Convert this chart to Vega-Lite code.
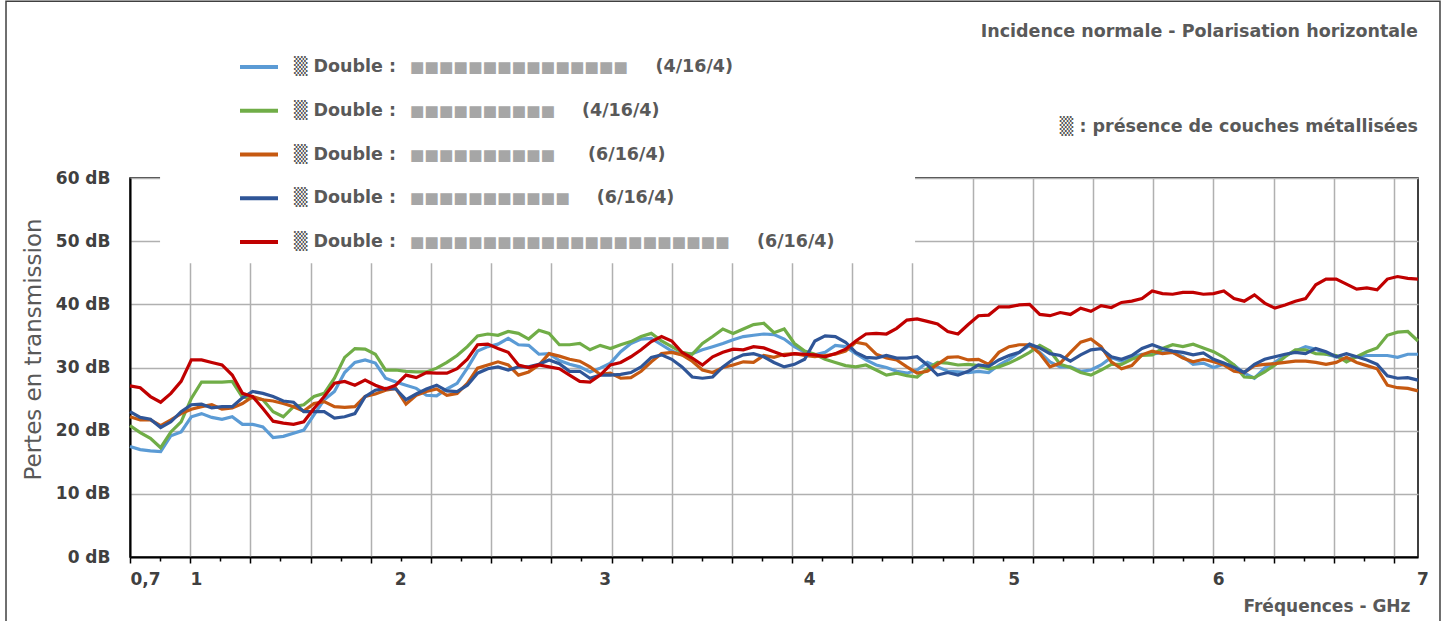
{
 "$schema": "https://vega.github.io/schema/vega-lite/v6.json",
 "width": 1288,
 "height": 379,
 "autosize": {"type": "none"},
 "padding": {"left": 130, "top": 178, "right": 32, "bottom": 64},
 "background": "white",
 "config": {"font": "DejaVu Sans", "view": {"stroke": "#000000", "strokeWidth": 1.5}},
 "title": {
  "text": "Incidence normale - Polarisation horizontale",
  "subtitle": "▒ : présence de couches métallisées\u00a0\u00a0",
  "anchor": "end", "frame": "group", "orient": "top", "offset": -135,
  "font": "DejaVu Sans", "fontSize": 17.5, "fontWeight": "bold", "color": "#595959",
  "subtitleFont": "DejaVu Sans", "subtitleFontSize": 17.5, "subtitleFontWeight": "bold", "subtitleColor": "#595959",
  "subtitlePadding": 77
 },
 "datasets": {"pts": [
{"serie":"A","ghz":0.7,"db":17.5},{"serie":"A","ghz":0.75,"db":17.0},{"serie":"A","ghz":0.8,"db":16.8},{"serie":"A","ghz":0.85,"db":16.7},{"serie":"A","ghz":0.9,"db":19.2},{"serie":"A","ghz":0.95,"db":19.8},{"serie":"A","ghz":1.0,"db":22.2},{"serie":"A","ghz":1.05,"db":22.7},{"serie":"A","ghz":1.1,"db":22.1},{"serie":"A","ghz":1.15,"db":21.8},
{"serie":"A","ghz":1.2,"db":22.2},{"serie":"A","ghz":1.25,"db":21.0},{"serie":"A","ghz":1.3,"db":21.0},{"serie":"A","ghz":1.35,"db":20.6},{"serie":"A","ghz":1.4,"db":18.9},{"serie":"A","ghz":1.45,"db":19.1},{"serie":"A","ghz":1.5,"db":19.6},{"serie":"A","ghz":1.55,"db":20.1},{"serie":"A","ghz":1.6,"db":22.5},{"serie":"A","ghz":1.65,"db":24.9},
{"serie":"A","ghz":1.7,"db":26.2},{"serie":"A","ghz":1.75,"db":29.2},{"serie":"A","ghz":1.8,"db":30.8},{"serie":"A","ghz":1.85,"db":31.2},{"serie":"A","ghz":1.9,"db":30.7},{"serie":"A","ghz":1.95,"db":28.3},{"serie":"A","ghz":2.0,"db":27.7},{"serie":"A","ghz":2.05,"db":27.2},{"serie":"A","ghz":2.1,"db":26.7},{"serie":"A","ghz":2.15,"db":25.6},
{"serie":"A","ghz":2.2,"db":25.5},{"serie":"A","ghz":2.25,"db":26.6},{"serie":"A","ghz":2.3,"db":27.5},{"serie":"A","ghz":2.35,"db":29.9},{"serie":"A","ghz":2.4,"db":32.6},{"serie":"A","ghz":2.45,"db":33.3},{"serie":"A","ghz":2.5,"db":33.7},{"serie":"A","ghz":2.55,"db":34.6},{"serie":"A","ghz":2.6,"db":33.6},{"serie":"A","ghz":2.65,"db":33.5},
{"serie":"A","ghz":2.7,"db":32.1},{"serie":"A","ghz":2.75,"db":32.2},{"serie":"A","ghz":2.8,"db":31.1},{"serie":"A","ghz":2.85,"db":30.5},{"serie":"A","ghz":2.9,"db":30.1},{"serie":"A","ghz":2.95,"db":29.3},{"serie":"A","ghz":3.0,"db":29.9},{"serie":"A","ghz":3.05,"db":30.7},{"serie":"A","ghz":3.1,"db":32.5},{"serie":"A","ghz":3.15,"db":33.8},
{"serie":"A","ghz":3.2,"db":34.5},{"serie":"A","ghz":3.25,"db":34.6},{"serie":"A","ghz":3.3,"db":33.6},{"serie":"A","ghz":3.35,"db":32.6},{"serie":"A","ghz":3.4,"db":32.0},{"serie":"A","ghz":3.45,"db":32.2},{"serie":"A","ghz":3.5,"db":32.8},{"serie":"A","ghz":3.55,"db":33.3},{"serie":"A","ghz":3.6,"db":33.8},{"serie":"A","ghz":3.65,"db":34.4},
{"serie":"A","ghz":3.7,"db":34.9},{"serie":"A","ghz":3.75,"db":35.1},{"serie":"A","ghz":3.8,"db":35.3},{"serie":"A","ghz":3.85,"db":35.2},{"serie":"A","ghz":3.9,"db":34.5},{"serie":"A","ghz":3.95,"db":33.3},{"serie":"A","ghz":4.0,"db":32.4},{"serie":"A","ghz":4.05,"db":32.0},{"serie":"A","ghz":4.1,"db":32.4},{"serie":"A","ghz":4.15,"db":33.5},
{"serie":"A","ghz":4.2,"db":33.3},{"serie":"A","ghz":4.25,"db":32.2},{"serie":"A","ghz":4.3,"db":31.2},{"serie":"A","ghz":4.35,"db":30.4},{"serie":"A","ghz":4.4,"db":30.0},{"serie":"A","ghz":4.45,"db":29.4},{"serie":"A","ghz":4.5,"db":29.1},{"serie":"A","ghz":4.55,"db":29.6},{"serie":"A","ghz":4.6,"db":30.8},{"serie":"A","ghz":4.65,"db":30.1},
{"serie":"A","ghz":4.7,"db":29.4},{"serie":"A","ghz":4.75,"db":29.3},{"serie":"A","ghz":4.8,"db":29.2},{"serie":"A","ghz":4.85,"db":29.4},{"serie":"A","ghz":4.9,"db":29.2},{"serie":"A","ghz":4.95,"db":30.4},{"serie":"A","ghz":5.0,"db":31.3},{"serie":"A","ghz":5.05,"db":32.4},{"serie":"A","ghz":5.1,"db":33.5},{"serie":"A","ghz":5.15,"db":32.4},
{"serie":"A","ghz":5.2,"db":30.9},{"serie":"A","ghz":5.25,"db":30.1},{"serie":"A","ghz":5.3,"db":30.1},{"serie":"A","ghz":5.35,"db":29.4},{"serie":"A","ghz":5.4,"db":29.6},{"serie":"A","ghz":5.45,"db":30.4},{"serie":"A","ghz":5.5,"db":31.6},{"serie":"A","ghz":5.55,"db":31.0},{"serie":"A","ghz":5.6,"db":31.7},{"serie":"A","ghz":5.65,"db":32.1},
{"serie":"A","ghz":5.7,"db":32.1},{"serie":"A","ghz":5.75,"db":32.4},{"serie":"A","ghz":5.8,"db":32.4},{"serie":"A","ghz":5.85,"db":31.7},{"serie":"A","ghz":5.9,"db":30.5},{"serie":"A","ghz":5.95,"db":30.7},{"serie":"A","ghz":6.0,"db":30.0},{"serie":"A","ghz":6.05,"db":30.5},{"serie":"A","ghz":6.1,"db":30.4},{"serie":"A","ghz":6.15,"db":29.1},
{"serie":"A","ghz":6.2,"db":28.3},{"serie":"A","ghz":6.25,"db":29.9},{"serie":"A","ghz":6.3,"db":30.8},{"serie":"A","ghz":6.35,"db":31.9},{"serie":"A","ghz":6.4,"db":32.6},{"serie":"A","ghz":6.45,"db":33.3},{"serie":"A","ghz":6.5,"db":32.9},{"serie":"A","ghz":6.55,"db":32.1},{"serie":"A","ghz":6.6,"db":31.7},{"serie":"A","ghz":6.65,"db":31.3},
{"serie":"A","ghz":6.7,"db":31.7},{"serie":"A","ghz":6.75,"db":31.9},{"serie":"A","ghz":6.8,"db":31.9},{"serie":"A","ghz":6.85,"db":31.9},{"serie":"A","ghz":6.9,"db":31.6},{"serie":"A","ghz":6.95,"db":32.1},{"serie":"A","ghz":7.0,"db":32.1},
{"serie":"B","ghz":0.7,"db":20.8},{"serie":"B","ghz":0.75,"db":19.7},{"serie":"B","ghz":0.8,"db":18.8},{"serie":"B","ghz":0.85,"db":17.3},{"serie":"B","ghz":0.9,"db":19.8},{"serie":"B","ghz":0.95,"db":21.4},{"serie":"B","ghz":1.0,"db":25.1},{"serie":"B","ghz":1.05,"db":27.7},{"serie":"B","ghz":1.1,"db":27.7},{"serie":"B","ghz":1.15,"db":27.7},
{"serie":"B","ghz":1.2,"db":27.8},{"serie":"B","ghz":1.25,"db":25.3},{"serie":"B","ghz":1.3,"db":25.2},{"serie":"B","ghz":1.35,"db":24.9},{"serie":"B","ghz":1.4,"db":23.0},{"serie":"B","ghz":1.45,"db":22.2},{"serie":"B","ghz":1.5,"db":23.8},{"serie":"B","ghz":1.55,"db":24.1},{"serie":"B","ghz":1.6,"db":25.4},{"serie":"B","ghz":1.65,"db":25.9},
{"serie":"B","ghz":1.7,"db":28.3},{"serie":"B","ghz":1.75,"db":31.6},{"serie":"B","ghz":1.8,"db":33.0},{"serie":"B","ghz":1.85,"db":32.9},{"serie":"B","ghz":1.9,"db":32.1},{"serie":"B","ghz":1.95,"db":29.6},{"serie":"B","ghz":2.0,"db":29.6},{"serie":"B","ghz":2.05,"db":29.4},{"serie":"B","ghz":2.1,"db":29.3},{"serie":"B","ghz":2.15,"db":29.3},
{"serie":"B","ghz":2.2,"db":29.9},{"serie":"B","ghz":2.25,"db":30.8},{"serie":"B","ghz":2.3,"db":31.9},{"serie":"B","ghz":2.35,"db":33.3},{"serie":"B","ghz":2.4,"db":35.0},{"serie":"B","ghz":2.45,"db":35.3},{"serie":"B","ghz":2.5,"db":35.1},{"serie":"B","ghz":2.55,"db":35.7},{"serie":"B","ghz":2.6,"db":35.4},{"serie":"B","ghz":2.65,"db":34.5},
{"serie":"B","ghz":2.7,"db":35.9},{"serie":"B","ghz":2.75,"db":35.4},{"serie":"B","ghz":2.8,"db":33.6},{"serie":"B","ghz":2.85,"db":33.6},{"serie":"B","ghz":2.9,"db":33.8},{"serie":"B","ghz":2.95,"db":32.8},{"serie":"B","ghz":3.0,"db":33.5},{"serie":"B","ghz":3.05,"db":33.0},{"serie":"B","ghz":3.1,"db":33.6},{"serie":"B","ghz":3.15,"db":34.1},
{"serie":"B","ghz":3.2,"db":34.9},{"serie":"B","ghz":3.25,"db":35.4},{"serie":"B","ghz":3.3,"db":34.2},{"serie":"B","ghz":3.35,"db":33.3},{"serie":"B","ghz":3.4,"db":32.4},{"serie":"B","ghz":3.45,"db":32.1},{"serie":"B","ghz":3.5,"db":33.8},{"serie":"B","ghz":3.55,"db":34.9},{"serie":"B","ghz":3.6,"db":36.1},{"serie":"B","ghz":3.65,"db":35.4},
{"serie":"B","ghz":3.7,"db":36.1},{"serie":"B","ghz":3.75,"db":36.8},{"serie":"B","ghz":3.8,"db":37.0},{"serie":"B","ghz":3.85,"db":35.5},{"serie":"B","ghz":3.9,"db":36.1},{"serie":"B","ghz":3.95,"db":33.8},{"serie":"B","ghz":4.0,"db":32.6},{"serie":"B","ghz":4.05,"db":32.1},{"serie":"B","ghz":4.1,"db":31.3},{"serie":"B","ghz":4.15,"db":30.8},
{"serie":"B","ghz":4.2,"db":30.3},{"serie":"B","ghz":4.25,"db":30.1},{"serie":"B","ghz":4.3,"db":30.4},{"serie":"B","ghz":4.35,"db":29.6},{"serie":"B","ghz":4.4,"db":28.8},{"serie":"B","ghz":4.45,"db":29.1},{"serie":"B","ghz":4.5,"db":28.7},{"serie":"B","ghz":4.55,"db":28.5},{"serie":"B","ghz":4.6,"db":29.8},{"serie":"B","ghz":4.65,"db":30.8},
{"serie":"B","ghz":4.7,"db":30.7},{"serie":"B","ghz":4.75,"db":30.4},{"serie":"B","ghz":4.8,"db":30.5},{"serie":"B","ghz":4.85,"db":30.3},{"serie":"B","ghz":4.9,"db":29.8},{"serie":"B","ghz":4.95,"db":30.1},{"serie":"B","ghz":5.0,"db":30.7},{"serie":"B","ghz":5.05,"db":31.5},{"serie":"B","ghz":5.1,"db":32.4},{"serie":"B","ghz":5.15,"db":33.5},
{"serie":"B","ghz":5.2,"db":32.6},{"serie":"B","ghz":5.25,"db":30.5},{"serie":"B","ghz":5.3,"db":30.0},{"serie":"B","ghz":5.35,"db":29.2},{"serie":"B","ghz":5.4,"db":28.8},{"serie":"B","ghz":5.45,"db":29.6},{"serie":"B","ghz":5.5,"db":30.5},{"serie":"B","ghz":5.55,"db":30.5},{"serie":"B","ghz":5.6,"db":31.3},{"serie":"B","ghz":5.65,"db":31.9},
{"serie":"B","ghz":5.7,"db":32.0},{"serie":"B","ghz":5.75,"db":33.0},{"serie":"B","ghz":5.8,"db":33.6},{"serie":"B","ghz":5.85,"db":33.3},{"serie":"B","ghz":5.9,"db":33.7},{"serie":"B","ghz":5.95,"db":33.1},{"serie":"B","ghz":6.0,"db":32.5},{"serie":"B","ghz":6.05,"db":31.6},{"serie":"B","ghz":6.1,"db":30.4},{"serie":"B","ghz":6.15,"db":28.5},
{"serie":"B","ghz":6.2,"db":28.4},{"serie":"B","ghz":6.25,"db":29.3},{"serie":"B","ghz":6.3,"db":30.4},{"serie":"B","ghz":6.35,"db":31.7},{"serie":"B","ghz":6.4,"db":32.8},{"serie":"B","ghz":6.45,"db":32.8},{"serie":"B","ghz":6.5,"db":32.2},{"serie":"B","ghz":6.55,"db":32.1},{"serie":"B","ghz":6.6,"db":31.9},{"serie":"B","ghz":6.65,"db":30.9},
{"serie":"B","ghz":6.7,"db":31.7},{"serie":"B","ghz":6.75,"db":32.5},{"serie":"B","ghz":6.8,"db":33.1},{"serie":"B","ghz":6.85,"db":35.1},{"serie":"B","ghz":6.9,"db":35.6},{"serie":"B","ghz":6.95,"db":35.7},{"serie":"B","ghz":7.0,"db":34.2},
{"serie":"C","ghz":0.7,"db":22.2},{"serie":"C","ghz":0.75,"db":21.7},{"serie":"C","ghz":0.8,"db":21.7},{"serie":"C","ghz":0.85,"db":20.8},{"serie":"C","ghz":0.9,"db":21.7},{"serie":"C","ghz":0.95,"db":22.7},{"serie":"C","ghz":1.0,"db":23.4},{"serie":"C","ghz":1.05,"db":23.8},{"serie":"C","ghz":1.1,"db":24.1},{"serie":"C","ghz":1.15,"db":23.4},
{"serie":"C","ghz":1.2,"db":23.6},{"serie":"C","ghz":1.25,"db":24.3},{"serie":"C","ghz":1.3,"db":25.4},{"serie":"C","ghz":1.35,"db":24.9},{"serie":"C","ghz":1.4,"db":24.7},{"serie":"C","ghz":1.45,"db":24.3},{"serie":"C","ghz":1.5,"db":23.8},{"serie":"C","ghz":1.55,"db":23.1},{"serie":"C","ghz":1.6,"db":24.3},{"serie":"C","ghz":1.65,"db":24.6},
{"serie":"C","ghz":1.7,"db":23.8},{"serie":"C","ghz":1.75,"db":23.7},{"serie":"C","ghz":1.8,"db":23.8},{"serie":"C","ghz":1.85,"db":25.4},{"serie":"C","ghz":1.9,"db":25.8},{"serie":"C","ghz":1.95,"db":26.4},{"serie":"C","ghz":2.0,"db":26.7},{"serie":"C","ghz":2.05,"db":24.2},{"serie":"C","ghz":2.1,"db":25.6},{"serie":"C","ghz":2.15,"db":26.2},
{"serie":"C","ghz":2.2,"db":26.6},{"serie":"C","ghz":2.25,"db":25.6},{"serie":"C","ghz":2.3,"db":25.9},{"serie":"C","ghz":2.35,"db":27.5},{"serie":"C","ghz":2.4,"db":29.9},{"serie":"C","ghz":2.45,"db":30.4},{"serie":"C","ghz":2.5,"db":30.9},{"serie":"C","ghz":2.55,"db":30.4},{"serie":"C","ghz":2.6,"db":28.8},{"serie":"C","ghz":2.65,"db":29.3},
{"serie":"C","ghz":2.7,"db":30.4},{"serie":"C","ghz":2.75,"db":32.2},{"serie":"C","ghz":2.8,"db":31.8},{"serie":"C","ghz":2.85,"db":31.3},{"serie":"C","ghz":2.9,"db":31.0},{"serie":"C","ghz":2.95,"db":30.1},{"serie":"C","ghz":3.0,"db":28.9},{"serie":"C","ghz":3.05,"db":29.1},{"serie":"C","ghz":3.1,"db":28.3},{"serie":"C","ghz":3.15,"db":28.4},
{"serie":"C","ghz":3.2,"db":29.4},{"serie":"C","ghz":3.25,"db":30.9},{"serie":"C","ghz":3.3,"db":32.2},{"serie":"C","ghz":3.35,"db":32.4},{"serie":"C","ghz":3.4,"db":32.0},{"serie":"C","ghz":3.45,"db":31.0},{"serie":"C","ghz":3.5,"db":29.6},{"serie":"C","ghz":3.55,"db":29.2},{"serie":"C","ghz":3.6,"db":30.0},{"serie":"C","ghz":3.65,"db":30.4},
{"serie":"C","ghz":3.7,"db":30.9},{"serie":"C","ghz":3.75,"db":30.8},{"serie":"C","ghz":3.8,"db":31.9},{"serie":"C","ghz":3.85,"db":31.6},{"serie":"C","ghz":3.9,"db":32.1},{"serie":"C","ghz":3.95,"db":32.2},{"serie":"C","ghz":4.0,"db":31.9},{"serie":"C","ghz":4.05,"db":31.7},{"serie":"C","ghz":4.1,"db":31.9},{"serie":"C","ghz":4.15,"db":32.1},
{"serie":"C","ghz":4.2,"db":32.6},{"serie":"C","ghz":4.25,"db":34.0},{"serie":"C","ghz":4.3,"db":33.7},{"serie":"C","ghz":4.35,"db":32.1},{"serie":"C","ghz":4.4,"db":31.5},{"serie":"C","ghz":4.45,"db":31.2},{"serie":"C","ghz":4.5,"db":30.1},{"serie":"C","ghz":4.55,"db":29.1},{"serie":"C","ghz":4.6,"db":29.4},{"serie":"C","ghz":4.65,"db":30.5},
{"serie":"C","ghz":4.7,"db":31.6},{"serie":"C","ghz":4.75,"db":31.7},{"serie":"C","ghz":4.8,"db":31.2},{"serie":"C","ghz":4.85,"db":31.3},{"serie":"C","ghz":4.9,"db":30.5},{"serie":"C","ghz":4.95,"db":32.4},{"serie":"C","ghz":5.0,"db":33.3},{"serie":"C","ghz":5.05,"db":33.6},{"serie":"C","ghz":5.1,"db":33.6},{"serie":"C","ghz":5.15,"db":32.2},
{"serie":"C","ghz":5.2,"db":30.1},{"serie":"C","ghz":5.25,"db":30.7},{"serie":"C","ghz":5.3,"db":32.4},{"serie":"C","ghz":5.35,"db":34.0},{"serie":"C","ghz":5.4,"db":34.5},{"serie":"C","ghz":5.45,"db":33.3},{"serie":"C","ghz":5.5,"db":30.9},{"serie":"C","ghz":5.55,"db":29.8},{"serie":"C","ghz":5.6,"db":30.3},{"serie":"C","ghz":5.65,"db":32.0},
{"serie":"C","ghz":5.7,"db":32.6},{"serie":"C","ghz":5.75,"db":32.2},{"serie":"C","ghz":5.8,"db":32.4},{"serie":"C","ghz":5.85,"db":31.5},{"serie":"C","ghz":5.9,"db":30.9},{"serie":"C","ghz":5.95,"db":31.3},{"serie":"C","ghz":6.0,"db":30.9},{"serie":"C","ghz":6.05,"db":30.4},{"serie":"C","ghz":6.1,"db":29.4},{"serie":"C","ghz":6.15,"db":29.2},
{"serie":"C","ghz":6.2,"db":30.3},{"serie":"C","ghz":6.25,"db":30.5},{"serie":"C","ghz":6.3,"db":30.6},{"serie":"C","ghz":6.35,"db":30.8},{"serie":"C","ghz":6.4,"db":31.0},{"serie":"C","ghz":6.45,"db":31.0},{"serie":"C","ghz":6.5,"db":30.8},{"serie":"C","ghz":6.55,"db":30.5},{"serie":"C","ghz":6.6,"db":30.8},{"serie":"C","ghz":6.65,"db":31.6},
{"serie":"C","ghz":6.7,"db":30.8},{"serie":"C","ghz":6.75,"db":30.3},{"serie":"C","ghz":6.8,"db":29.8},{"serie":"C","ghz":6.85,"db":27.2},{"serie":"C","ghz":6.9,"db":26.8},{"serie":"C","ghz":6.95,"db":26.7},{"serie":"C","ghz":7.0,"db":26.3},
{"serie":"D","ghz":0.7,"db":23.0},{"serie":"D","ghz":0.75,"db":22.1},{"serie":"D","ghz":0.8,"db":21.8},{"serie":"D","ghz":0.85,"db":20.5},{"serie":"D","ghz":0.9,"db":21.4},{"serie":"D","ghz":0.95,"db":23.0},{"serie":"D","ghz":1.0,"db":24.1},{"serie":"D","ghz":1.05,"db":24.2},{"serie":"D","ghz":1.1,"db":23.6},{"serie":"D","ghz":1.15,"db":23.8},
{"serie":"D","ghz":1.2,"db":23.8},{"serie":"D","ghz":1.25,"db":25.2},{"serie":"D","ghz":1.3,"db":26.2},{"serie":"D","ghz":1.35,"db":25.9},{"serie":"D","ghz":1.4,"db":25.4},{"serie":"D","ghz":1.45,"db":24.7},{"serie":"D","ghz":1.5,"db":24.5},{"serie":"D","ghz":1.55,"db":23.0},{"serie":"D","ghz":1.6,"db":23.0},{"serie":"D","ghz":1.65,"db":23.0},
{"serie":"D","ghz":1.7,"db":22.0},{"serie":"D","ghz":1.75,"db":22.2},{"serie":"D","ghz":1.8,"db":22.7},{"serie":"D","ghz":1.85,"db":25.4},{"serie":"D","ghz":1.9,"db":26.4},{"serie":"D","ghz":1.95,"db":26.7},{"serie":"D","ghz":2.0,"db":26.6},{"serie":"D","ghz":2.05,"db":24.9},{"serie":"D","ghz":2.1,"db":25.8},{"serie":"D","ghz":2.15,"db":26.6},
{"serie":"D","ghz":2.2,"db":27.2},{"serie":"D","ghz":2.25,"db":26.3},{"serie":"D","ghz":2.3,"db":26.2},{"serie":"D","ghz":2.35,"db":27.2},{"serie":"D","ghz":2.4,"db":29.1},{"serie":"D","ghz":2.45,"db":29.8},{"serie":"D","ghz":2.5,"db":30.1},{"serie":"D","ghz":2.55,"db":29.6},{"serie":"D","ghz":2.6,"db":30.1},{"serie":"D","ghz":2.65,"db":30.1},
{"serie":"D","ghz":2.7,"db":30.5},{"serie":"D","ghz":2.75,"db":31.2},{"serie":"D","ghz":2.8,"db":30.6},{"serie":"D","ghz":2.85,"db":29.4},{"serie":"D","ghz":2.9,"db":29.4},{"serie":"D","ghz":2.95,"db":28.3},{"serie":"D","ghz":3.0,"db":28.8},{"serie":"D","ghz":3.05,"db":28.8},{"serie":"D","ghz":3.1,"db":28.9},{"serie":"D","ghz":3.15,"db":29.2},
{"serie":"D","ghz":3.2,"db":30.1},{"serie":"D","ghz":3.25,"db":31.6},{"serie":"D","ghz":3.3,"db":32.0},{"serie":"D","ghz":3.35,"db":31.3},{"serie":"D","ghz":3.4,"db":30.1},{"serie":"D","ghz":3.45,"db":28.5},{"serie":"D","ghz":3.5,"db":28.3},{"serie":"D","ghz":3.55,"db":28.5},{"serie":"D","ghz":3.6,"db":30.1},{"serie":"D","ghz":3.65,"db":31.3},
{"serie":"D","ghz":3.7,"db":32.0},{"serie":"D","ghz":3.75,"db":32.2},{"serie":"D","ghz":3.8,"db":31.7},{"serie":"D","ghz":3.85,"db":30.8},{"serie":"D","ghz":3.9,"db":30.1},{"serie":"D","ghz":3.95,"db":30.5},{"serie":"D","ghz":4.0,"db":31.3},{"serie":"D","ghz":4.05,"db":34.2},{"serie":"D","ghz":4.1,"db":35.0},{"serie":"D","ghz":4.15,"db":34.9},
{"serie":"D","ghz":4.2,"db":34.0},{"serie":"D","ghz":4.25,"db":32.4},{"serie":"D","ghz":4.3,"db":31.6},{"serie":"D","ghz":4.35,"db":31.5},{"serie":"D","ghz":4.4,"db":31.9},{"serie":"D","ghz":4.45,"db":31.5},{"serie":"D","ghz":4.5,"db":31.5},{"serie":"D","ghz":4.55,"db":31.7},{"serie":"D","ghz":4.6,"db":30.4},{"serie":"D","ghz":4.65,"db":28.8},
{"serie":"D","ghz":4.7,"db":29.2},{"serie":"D","ghz":4.75,"db":28.8},{"serie":"D","ghz":4.8,"db":29.4},{"serie":"D","ghz":4.85,"db":30.4},{"serie":"D","ghz":4.9,"db":30.2},{"serie":"D","ghz":4.95,"db":31.2},{"serie":"D","ghz":5.0,"db":31.9},{"serie":"D","ghz":5.05,"db":32.4},{"serie":"D","ghz":5.1,"db":33.7},{"serie":"D","ghz":5.15,"db":33.1},
{"serie":"D","ghz":5.2,"db":32.2},{"serie":"D","ghz":5.25,"db":31.9},{"serie":"D","ghz":5.3,"db":31.0},{"serie":"D","ghz":5.35,"db":32.0},{"serie":"D","ghz":5.4,"db":32.8},{"serie":"D","ghz":5.45,"db":33.0},{"serie":"D","ghz":5.5,"db":31.7},{"serie":"D","ghz":5.55,"db":31.3},{"serie":"D","ghz":5.6,"db":31.9},{"serie":"D","ghz":5.65,"db":33.0},
{"serie":"D","ghz":5.7,"db":33.6},{"serie":"D","ghz":5.75,"db":33.0},{"serie":"D","ghz":5.8,"db":32.6},{"serie":"D","ghz":5.85,"db":32.4},{"serie":"D","ghz":5.9,"db":32.0},{"serie":"D","ghz":5.95,"db":32.3},{"serie":"D","ghz":6.0,"db":31.3},{"serie":"D","ghz":6.05,"db":30.7},{"serie":"D","ghz":6.1,"db":30.0},{"serie":"D","ghz":6.15,"db":29.2},
{"serie":"D","ghz":6.2,"db":30.5},{"serie":"D","ghz":6.25,"db":31.3},{"serie":"D","ghz":6.3,"db":31.7},{"serie":"D","ghz":6.35,"db":32.1},{"serie":"D","ghz":6.4,"db":32.4},{"serie":"D","ghz":6.45,"db":32.2},{"serie":"D","ghz":6.5,"db":33.0},{"serie":"D","ghz":6.55,"db":32.5},{"serie":"D","ghz":6.6,"db":31.7},{"serie":"D","ghz":6.65,"db":32.2},
{"serie":"D","ghz":6.7,"db":31.7},{"serie":"D","ghz":6.75,"db":31.2},{"serie":"D","ghz":6.8,"db":30.5},{"serie":"D","ghz":6.85,"db":28.7},{"serie":"D","ghz":6.9,"db":28.3},{"serie":"D","ghz":6.95,"db":28.4},{"serie":"D","ghz":7.0,"db":28.0},
{"serie":"E","ghz":0.7,"db":27.1},{"serie":"E","ghz":0.75,"db":26.8},{"serie":"E","ghz":0.8,"db":25.4},{"serie":"E","ghz":0.85,"db":24.5},{"serie":"E","ghz":0.9,"db":25.9},{"serie":"E","ghz":0.95,"db":27.8},{"serie":"E","ghz":1.0,"db":31.2},{"serie":"E","ghz":1.05,"db":31.2},{"serie":"E","ghz":1.1,"db":30.8},{"serie":"E","ghz":1.15,"db":30.4},
{"serie":"E","ghz":1.2,"db":28.8},{"serie":"E","ghz":1.25,"db":25.9},{"serie":"E","ghz":1.3,"db":25.4},{"serie":"E","ghz":1.35,"db":23.5},{"serie":"E","ghz":1.4,"db":21.5},{"serie":"E","ghz":1.45,"db":21.2},{"serie":"E","ghz":1.5,"db":21.0},{"serie":"E","ghz":1.55,"db":21.4},{"serie":"E","ghz":1.6,"db":23.5},{"serie":"E","ghz":1.65,"db":25.4},
{"serie":"E","ghz":1.7,"db":27.5},{"serie":"E","ghz":1.75,"db":27.8},{"serie":"E","ghz":1.8,"db":27.2},{"serie":"E","ghz":1.85,"db":28.0},{"serie":"E","ghz":1.9,"db":27.2},{"serie":"E","ghz":1.95,"db":26.6},{"serie":"E","ghz":2.0,"db":27.2},{"serie":"E","ghz":2.05,"db":28.8},{"serie":"E","ghz":2.1,"db":28.4},{"serie":"E","ghz":2.15,"db":29.2},
{"serie":"E","ghz":2.2,"db":29.1},{"serie":"E","ghz":2.25,"db":29.1},{"serie":"E","ghz":2.3,"db":29.8},{"serie":"E","ghz":2.35,"db":31.3},{"serie":"E","ghz":2.4,"db":33.6},{"serie":"E","ghz":2.45,"db":33.7},{"serie":"E","ghz":2.5,"db":33.0},{"serie":"E","ghz":2.55,"db":32.4},{"serie":"E","ghz":2.6,"db":30.4},{"serie":"E","ghz":2.65,"db":30.0},
{"serie":"E","ghz":2.7,"db":30.4},{"serie":"E","ghz":2.75,"db":30.1},{"serie":"E","ghz":2.8,"db":29.8},{"serie":"E","ghz":2.85,"db":28.8},{"serie":"E","ghz":2.9,"db":27.8},{"serie":"E","ghz":2.95,"db":27.7},{"serie":"E","ghz":3.0,"db":28.8},{"serie":"E","ghz":3.05,"db":30.4},{"serie":"E","ghz":3.1,"db":30.8},{"serie":"E","ghz":3.15,"db":31.7},
{"serie":"E","ghz":3.2,"db":32.8},{"serie":"E","ghz":3.25,"db":34.1},{"serie":"E","ghz":3.3,"db":34.9},{"serie":"E","ghz":3.35,"db":34.2},{"serie":"E","ghz":3.4,"db":32.4},{"serie":"E","ghz":3.45,"db":31.5},{"serie":"E","ghz":3.5,"db":30.4},{"serie":"E","ghz":3.55,"db":31.7},{"serie":"E","ghz":3.6,"db":32.4},{"serie":"E","ghz":3.65,"db":32.9},
{"serie":"E","ghz":3.7,"db":32.8},{"serie":"E","ghz":3.75,"db":33.3},{"serie":"E","ghz":3.8,"db":33.1},{"serie":"E","ghz":3.85,"db":32.5},{"serie":"E","ghz":3.9,"db":31.9},{"serie":"E","ghz":3.95,"db":32.2},{"serie":"E","ghz":4.0,"db":32.1},{"serie":"E","ghz":4.05,"db":32.0},{"serie":"E","ghz":4.1,"db":31.7},{"serie":"E","ghz":4.15,"db":32.2},
{"serie":"E","ghz":4.2,"db":32.9},{"serie":"E","ghz":4.25,"db":34.2},{"serie":"E","ghz":4.3,"db":35.3},{"serie":"E","ghz":4.35,"db":35.4},{"serie":"E","ghz":4.4,"db":35.3},{"serie":"E","ghz":4.45,"db":36.2},{"serie":"E","ghz":4.5,"db":37.5},{"serie":"E","ghz":4.55,"db":37.7},{"serie":"E","ghz":4.6,"db":37.3},{"serie":"E","ghz":4.65,"db":36.9},
{"serie":"E","ghz":4.7,"db":35.7},{"serie":"E","ghz":4.75,"db":35.3},{"serie":"E","ghz":4.8,"db":36.8},{"serie":"E","ghz":4.85,"db":38.2},{"serie":"E","ghz":4.9,"db":38.3},{"serie":"E","ghz":4.95,"db":39.6},{"serie":"E","ghz":5.0,"db":39.6},{"serie":"E","ghz":5.05,"db":39.9},{"serie":"E","ghz":5.1,"db":40.0},{"serie":"E","ghz":5.15,"db":38.4},
{"serie":"E","ghz":5.2,"db":38.2},{"serie":"E","ghz":5.25,"db":38.7},{"serie":"E","ghz":5.3,"db":38.4},{"serie":"E","ghz":5.35,"db":39.4},{"serie":"E","ghz":5.4,"db":38.9},{"serie":"E","ghz":5.45,"db":39.8},{"serie":"E","ghz":5.5,"db":39.5},{"serie":"E","ghz":5.55,"db":40.3},{"serie":"E","ghz":5.6,"db":40.5},{"serie":"E","ghz":5.65,"db":40.9},
{"serie":"E","ghz":5.7,"db":42.1},{"serie":"E","ghz":5.75,"db":41.7},{"serie":"E","ghz":5.8,"db":41.6},{"serie":"E","ghz":5.85,"db":41.9},{"serie":"E","ghz":5.9,"db":41.9},{"serie":"E","ghz":5.95,"db":41.6},{"serie":"E","ghz":6.0,"db":41.7},{"serie":"E","ghz":6.05,"db":42.1},{"serie":"E","ghz":6.1,"db":40.9},{"serie":"E","ghz":6.15,"db":40.5},
{"serie":"E","ghz":6.2,"db":41.5},{"serie":"E","ghz":6.25,"db":40.2},{"serie":"E","ghz":6.3,"db":39.4},{"serie":"E","ghz":6.35,"db":39.9},{"serie":"E","ghz":6.4,"db":40.5},{"serie":"E","ghz":6.45,"db":40.9},{"serie":"E","ghz":6.5,"db":43.1},{"serie":"E","ghz":6.55,"db":44.0},{"serie":"E","ghz":6.6,"db":44.0},{"serie":"E","ghz":6.65,"db":43.2},
{"serie":"E","ghz":6.7,"db":42.4},{"serie":"E","ghz":6.75,"db":42.6},{"serie":"E","ghz":6.8,"db":42.3},{"serie":"E","ghz":6.85,"db":44.0},{"serie":"E","ghz":6.9,"db":44.4},{"serie":"E","ghz":6.95,"db":44.1},{"serie":"E","ghz":7.0,"db":44.0}
 ]},
 "resolve": {"scale": {"color": "independent"}, "legend": {"color": "independent"}, "axis": {"x": "independent", "y": "independent"}},
 "layer": [
  {
   "data": {"values": [{}]},
   "mark": {"type": "rect", "fill": "white"},
   "encoding": {
    "x": {"datum": 0.847, "type": "quantitative", "axis": null},
    "x2": {"datum": 4.54},
    "y": {"datum": 46.5, "type": "quantitative", "axis": null},
    "y2": {"datum": 62}
   }
  },
  {
   "data": {"values": [{}]},
   "mark": {"type": "rect", "filled": false, "stroke": "#404040", "strokeWidth": 1.5, "clip": false},
   "encoding": {
    "x": {"datum": 0.0935, "type": "quantitative", "axis": null},
    "x2": {"datum": 7.1076},
    "y": {"datum": 88, "type": "quantitative", "axis": null},
    "y2": {"datum": -12}
   }
  },
  {
   "data": {"name": "pts"},
   "mark": {"type": "line", "strokeWidth": 3.2},
   "encoding": {
    "x": {"field": "ghz", "type": "quantitative",
     "scale": {"domain": [0.7, 7], "nice": false, "zero": false},
     "axis": {"orient": "bottom", "values": [0.7, 0.9944, 1.2888, 1.5832, 1.8776, 2.1721, 2.4665, 2.7609, 3.0553, 3.3497, 3.6441, 3.9385, 4.2329, 4.5273, 4.8217, 5.1162, 5.4106, 5.705, 5.9994, 6.2938, 6.5882, 6.8826],
      "labels": false, "title": null, "grid": true, "gridColor": "#b0b0b0", "gridWidth": 1.5,
      "ticks": true, "tickColor": "#000000", "tickSize": 6, "tickWidth": 1.5,
      "domain": true, "domainColor": "#000000", "domainWidth": 2}},
    "y": {"field": "db", "type": "quantitative",
     "scale": {"domain": [0, 60], "nice": false, "zero": true},
     "axis": {"orient": "left", "values": [0, 10, 20, 30, 40, 50, 60], "labelExpr": "datum.value + ' dB'",
      "grid": true, "gridColor": "#b0b0b0", "gridWidth": 1.5, "ticks": false,
      "domain": true, "domainColor": "#000000", "domainWidth": 2,
      "labelFont": "DejaVu Sans", "labelFontWeight": "bold", "labelFontSize": 17, "labelColor": "#404040",
      "labelPadding": 20, "labelFlush": false,
      "title": "Pertes en transmission", "titleFont": "DejaVu Sans", "titleFontWeight": "normal",
      "titleFontSize": 23, "titleColor": "#595959", "titleX": -96.5, "titleY": 171, "titleBaseline": "middle", "titleAlign": "center"}},
    "color": {"field": "serie", "type": "nominal",
     "scale": {"domain": ["A", "B", "C", "D", "E"], "range": ["#5B9BD5", "#70AD47", "#C65911", "#2F5597", "#C00000"]},
     "legend": {"orient": "none", "legendX": 108, "legendY": -132, "title": null, "padding": 0,
      "symbolType": "stroke", "symbolSize": 1444, "symbolStrokeWidth": 3.8, "rowPadding": 13.75,
      "labelOffset": 14, "labelLimit": 600, "labelFont": "DejaVu Sans", "labelFontWeight": "bold",
      "labelFontSize": 17.5, "labelColor": "#595959",
      "labelExpr": "'\u2592 Double :'"}}
   }
  },
  {
   "data": {"name": "pts"},
   "mark": {"type": "line", "opacity": 0},
   "encoding": {
    "x": {"field": "ghz", "type": "quantitative",
     "axis": {"orient": "bottom", "values": [0.8472, 1.1416, 1.436, 1.7304, 2.0249, 2.3193, 2.6137, 2.9081, 3.2025, 3.4969, 3.7913, 4.0857, 4.3801, 4.6745, 4.969, 5.2634, 5.5578, 5.8522, 6.1466, 6.441, 6.7354],
      "labels": false, "title": null, "grid": false, "domain": false,
      "ticks": true, "tickColor": "#000000", "tickSize": 4, "tickWidth": 1.5}},
    "y": {"field": "db", "type": "quantitative", "axis": null},
    "color": {"field": "serie", "type": "nominal",
     "scale": {"domain": ["A", "B", "C", "D", "E"], "range": ["#ffffff", "#ffffff", "#ffffff", "#ffffff", "#ffffff"]},
     "legend": {"orient": "none", "legendX": 108, "legendY": -132, "title": null, "padding": 0,
      "symbolType": "stroke", "symbolSize": 1444, "symbolStrokeWidth": 3.8, "symbolOpacity": 0, "rowPadding": 13.75,
      "labelOffset": 130, "labelLimit": 600, "labelFont": "DejaVu Sans", "labelFontWeight": "bold",
      "labelFontSize": 15.4, "labelColor": "#A6A6A6",
      "labelExpr": "datum.value == 'A' ? '■■■■■■■■■■■■■■■' : datum.value == 'B' ? '■■■■■■■■■■' : datum.value == 'C' ? '■■■■■■■■■■' : datum.value == 'D' ? '■■■■■■■■■■■' : '■■■■■■■■■■■■■■■■■■■■■■'"}}
   }
  },
  {
   "data": {"name": "pts"},
   "mark": {"type": "line", "opacity": 0},
   "encoding": {
    "x": {"field": "ghz", "type": "quantitative",
     "axis": {"orient": "bottom", "values": [0.7, 1, 2, 3, 4, 5, 6, 7],
      "labelExpr": "datum.value < 0.8 ? '0,7' : datum.label",
      "ticks": false, "grid": false, "domain": false, "labelFlush": false, "labelOverlap": false,
      "labelAlign": {"condition": {"test": "datum.value < 0.8", "value": "left"}, "value": "center"},
      "labelOffset": {"condition": {"test": "datum.value < 0.8", "value": 0}, "value": 4.5},
      "labelFont": "DejaVu Sans", "labelFontWeight": "bold", "labelFontSize": 17, "labelColor": "#404040",
      "labelPadding": 14,
      "title": "Fréquences - GHz", "titleFont": "DejaVu Sans", "titleFontWeight": "bold", "titleFontSize": 17,
      "titleColor": "#595959", "titleX": 1280, "titleY": 54, "titleAlign": "right", "titleBaseline": "alphabetic"}},
    "y": {"field": "db", "type": "quantitative", "axis": null},
    "color": {"field": "serie", "type": "nominal",
     "scale": {"domain": ["A", "B", "C", "D", "E"], "range": ["#ffffff", "#ffffff", "#ffffff", "#ffffff", "#ffffff"]},
     "legend": {"orient": "none", "legendX": 108, "legendY": -132, "title": null, "padding": 0,
      "symbolType": "stroke", "symbolSize": 1444, "symbolStrokeWidth": 3.8, "symbolOpacity": 0, "rowPadding": 13.75,
      "labelOffset": 302, "labelLimit": 600, "labelFont": "DejaVu Sans", "labelFontWeight": "bold",
      "labelFontSize": 17.5, "labelColor": "#595959",
      "labelExpr": "datum.value == 'A' ? '\u2060\u2003\u2003\u2003\u2003\u2009(4/16/4)' : datum.value == 'B' ? '(4/16/4)' : datum.value == 'C' ? '\u2060\u00a0(6/16/4)' : datum.value == 'D' ? '\u2060\u2002\u00a0(6/16/4)' : '\u2060\u2003\u2003\u2003\u2003\u2003\u2003\u2003\u2003\u2003\u2003(6/16/4)'"}}
   }
  }
 ]
}
